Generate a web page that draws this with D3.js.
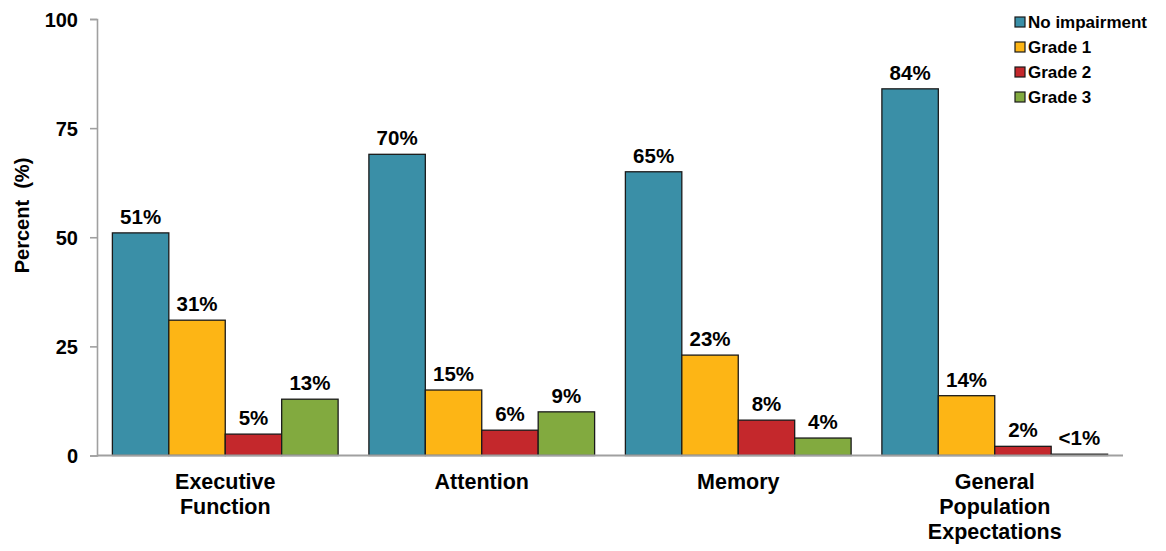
<!DOCTYPE html>
<html><head><meta charset="utf-8">
<script src="https://cdn.jsdelivr.net/npm/d3@7"></script>
<style>body{margin:0;background:#fff}svg{display:block}text{font-family:"Liberation Sans",Arial,sans-serif;font-weight:bold;fill:#000}</style>
</head><body><svg id="c" width="1166" height="551"></svg>
<script>
const categories = [["Executive","Function"],["Attention"],["Memory"],["General","Population","Expectations"]];
const seriesNames = ["No impairment","Grade 1","Grade 2","Grade 3"];
const colors = ["#3A8FA7","#FDB515","#C4282C","#82AA3F"];
const noImpairment = [51, 69, 65, 84];
const grade1 = [31, 15, 23, 13.7];
const grade2 = [4.9, 5.8, 8.1, 2.1];
const grade3 = [12.9, 10, 4, 0.3];
const labelNoImp = ["51%","70%","65%","84%"];
const labelG1 = ["31%","15%","23%","14%"];
const labelG2 = ["5%","6%","8%","2%"];
const labelG3 = ["13%","9%","4%","<1%"];
const yTicks = [0,25,50,75,100];

const series = [noImpairment, grade1, grade2, grade3];
const labels = [labelNoImp, labelG1, labelG2, labelG3];
const svg = d3.select("#c");
const x = d3.scaleBand().domain(d3.range(categories.length)).range([97,1123]).paddingInner(0.12).paddingOuter(0.06);
const xs = d3.scaleBand().domain(d3.range(seriesNames.length)).range([0,x.bandwidth()]);
const y = d3.scaleLinear().domain([0,100]).range([455.5,19]);

// y axis
const ya = svg.append("g").attr("transform","translate(97,0)").call(d3.axisLeft(y).tickValues(yTicks).tickSize(7).tickPadding(12));
ya.select(".domain").attr("stroke","#a0a0a0").attr("stroke-width",1.6);
ya.selectAll(".tick line").attr("stroke","#a0a0a0").attr("stroke-width",1.6);
ya.selectAll(".tick text").style("font-size","20px").attr("fill","#000").attr("dy","0.35em");

// bars
const data = [];
series.forEach((s,si)=>s.forEach((v,ci)=>data.push({si,ci,v,l:labels[si][ci]})));
svg.append("g").selectAll("rect").data(data).join("rect")
  .attr("x",d=>x(d.ci)+xs(d.si)).attr("width",xs.bandwidth())
  .attr("y",d=>y(d.v)).attr("height",d=>y(0)-y(d.v))
  .attr("fill",d=>colors[d.si]).attr("stroke","#1a1a1a").attr("stroke-width",1.3);

svg.append("g").selectAll("text").data(data).join("text")
  .attr("x",d=>x(d.ci)+xs(d.si)+xs.bandwidth()/2).attr("y",d=>y(d.v)-9)
  .attr("text-anchor","middle").style("font-size","20.5px").text(d=>d.l);

// x axis line
svg.append("line").attr("x1",97).attr("x2",1123).attr("y1",y(0)).attr("y2",y(0)).attr("stroke","#a0a0a0").attr("stroke-width",1.8);

// category labels
const cg = svg.append("g").selectAll("text").data(categories).join("text")
  .attr("text-anchor","middle").style("font-size","21.5px")
  .attr("transform",(d,i)=>`translate(${x(i)+x.bandwidth()/2},489)`);
cg.selectAll("tspan").data(d=>d).join("tspan").attr("x",0).attr("y",(d,i)=>i*25).text(d=>d);

// y title
svg.append("text").attr("transform","translate(29,215.5) rotate(-90)").attr("text-anchor","middle")
  .style("font-size","20px").style("white-space","pre").text("Percent  (%)");

// legend
const lg = svg.append("g").selectAll("g").data(seriesNames).join("g").attr("transform",(d,i)=>`translate(1015,${22+i*25})`);
lg.append("rect").attr("x",0).attr("y",-5).attr("width",10).attr("height",10).attr("fill",(d,i)=>colors[i]).attr("stroke","#1a1a1a").attr("stroke-width",1.2);
lg.append("text").attr("x",13).attr("y",0).attr("dy","0.36em").style("font-size","17px").text(d=>d);
</script></body></html>
